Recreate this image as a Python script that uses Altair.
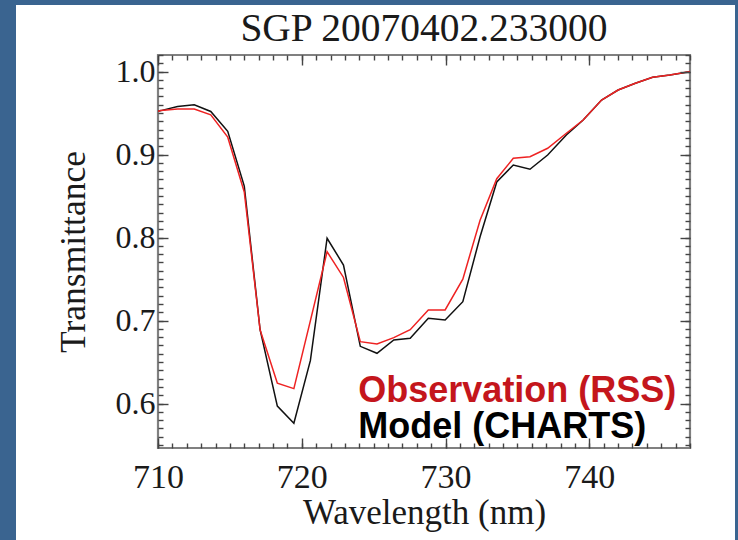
import altair as alt
import pandas as pd

# ---- data ----
wavelength = [709.0, 710.2, 711.36, 712.52, 713.67, 714.85, 716.0, 717.1, 718.3, 719.45,
              720.6, 721.76, 722.9, 724.07, 725.23, 726.4, 727.54, 728.8, 729.97, 731.2,
              732.4, 733.56, 734.71, 735.87, 737.1, 738.4, 739.57, 740.85, 742.0, 743.2,
              744.4, 745.6, 746.9, 748.1]
observation = [0.949, 0.953, 0.955, 0.955, 0.948, 0.921, 0.855, 0.689, 0.6245, 0.618,
               0.700, 0.783, 0.752, 0.6746, 0.6718, 0.6795, 0.689, 0.7128, 0.7128, 0.750,
               0.821, 0.871, 0.8955, 0.8975, 0.9076, 0.9257, 0.9417, 0.9658, 0.9778, 0.9859,
               0.9931, 0.9959, 0.9999, 1.002]
model = [0.949, 0.953, 0.958, 0.960, 0.952, 0.928, 0.862, 0.689, 0.597, 0.5763,
         0.652, 0.7992, 0.767, 0.669, 0.6606, 0.6766, 0.6786, 0.7028, 0.7007, 0.7228,
         0.801, 0.867, 0.8875, 0.8823, 0.8995, 0.9236, 0.9417, 0.9658, 0.9778, 0.9859,
         0.9931, 0.9959, 0.9995, 1.001]

title_text = "SGP 20070402.233000"
x_title = "Wavelength (nm)"
y_title = "Transmittance"
legend_labels = ["Observation (RSS)", "Model (CHARTS)"]
legend_x = [723.93, 723.93]
legend_y = [0.6025, 0.5582]

x_major = [710, 720, 730, 740]
x_minor = [710, 711, 712, 713, 714, 715, 716, 717, 718, 719, 720, 721, 722, 723, 724,
           725, 726, 727, 728, 729, 730, 731, 732, 733, 734, 735, 736, 737, 738, 739,
           740, 741, 742, 743, 744, 745, 746, 747]
y_major = [0.6, 0.7, 0.8, 0.9, 1.0]
y_minor = [0.55, 0.56, 0.57, 0.58, 0.59, 0.60, 0.61, 0.62, 0.63, 0.64, 0.65, 0.66, 0.67,
           0.68, 0.69, 0.70, 0.71, 0.72, 0.73, 0.74, 0.75, 0.76, 0.77, 0.78, 0.79, 0.80,
           0.81, 0.82, 0.83, 0.84, 0.85, 0.86, 0.87, 0.88, 0.89, 0.90, 0.91, 0.92, 0.93,
           0.94, 0.95, 0.96, 0.97, 0.98, 0.99, 1.00, 1.01, 1.02]

df = pd.DataFrame({"wl": wavelength, "obs": observation, "model": model})
obs_df = pd.DataFrame({"x": legend_x[:1], "y": legend_y[:1], "t": legend_labels[:1]})
mod_df = pd.DataFrame({"x": legend_x[1:], "y": legend_y[1:], "t": legend_labels[1:]})

SERIF = "Liberation Serif"
TXT = "#1a1a1a"
TICK = "#444444"
xs = alt.Scale(domain=[710, 747], nice=False, zero=False)
ys = alt.Scale(domain=[0.5465, 1.02], nice=False, zero=False)


def tick_axis(orient, values, size, **kw):
    base = dict(orient=orient, values=values, tickSize=size, offset=-size, domain=False,
                grid=False, labels=False, title=None, tickColor=TICK, tickWidth=1.4,
                zindex=1)
    base.update(kw)
    return alt.Axis(**base)


x_main = tick_axis("bottom", x_major, 10, labels=True, format="d", labelFlush=False,
                   labelFont=SERIF, labelFontSize=34, labelColor=TXT, labelPadding=12,
                   title=x_title, titleFont=SERIF, titleFontSize=35, titleFontWeight="normal",
                   titleColor=TXT, titlePadding=1)
y_main = tick_axis("left", y_major, 10, labels=True, format=".1f",
                   labelFont=SERIF, labelFontSize=32, labelColor=TXT, labelPadding=3,
                   title=y_title, titleFont=SERIF, titleFontSize=35.5, titleFontWeight="normal",
                   titleColor=TXT, titlePadding=24)

# white panel on the blue slide background
panel = alt.Chart(pd.DataFrame({"a": [0]})).mark_rect(color="white").encode(
    x=alt.value(-142), x2=alt.value(577), y=alt.value(-50), y2=alt.value(495))

# plot frame
frame = alt.Chart(pd.DataFrame({"a": [0]})).mark_rect(
    fill=None, stroke="#808080", strokeWidth=2.2).encode(
    x=alt.value(0), x2=alt.value(532), y=alt.value(0), y2=alt.value(393))

model_line = alt.Chart(df).mark_line(color="#111111", strokeWidth=1.5, clip=True).encode(
    x=alt.X("wl:Q", scale=xs, axis=tick_axis("top", x_major, 10)),
    y=alt.Y("model:Q", scale=ys, axis=tick_axis("right", y_major, 10)))

obs_line = alt.Chart(df).mark_line(color="#ee2222", strokeWidth=1.5, clip=True).encode(
    x=alt.X("wl:Q", scale=xs, axis=x_main),
    y=alt.Y("obs:Q", scale=ys, axis=y_main))

obs_text = alt.Chart(obs_df).mark_text(
    align="left", baseline="alphabetic", font="Liberation Sans", fontWeight="bold",
    fontSize=36, color="#c4161c").encode(
    x=alt.X("x:Q", scale=xs, axis=tick_axis("bottom", x_minor, 5)),
    y=alt.Y("y:Q", scale=ys, axis=tick_axis("left", y_minor, 5)),
    text="t:N")

mod_text = alt.Chart(mod_df).mark_text(
    align="left", baseline="alphabetic", font="Liberation Sans", fontWeight="bold",
    fontSize=36, color="#000000").encode(
    x=alt.X("x:Q", scale=xs, axis=tick_axis("top", x_minor, 5)),
    y=alt.Y("y:Q", scale=ys, axis=tick_axis("right", y_minor, 5)),
    text="t:N")

chart = alt.layer(panel, frame, model_line, obs_line, obs_text, mod_text).resolve_axis(
    x="independent", y="independent"
).properties(
    width=532, height=393,
    title=alt.TitleParams(title_text, font=SERIF, fontSize=39.5, fontWeight="normal",
                          color=TXT, anchor="middle", offset=0, dy=44),
    autosize=alt.AutoSizeParams(type="none"),
    padding={"left": 158, "top": 55, "right": 48, "bottom": 92},
    background="#3a6490",
).configure_view(stroke=None)

chart.save("out.html", embed_options={"renderer": "svg", "actions": False})
